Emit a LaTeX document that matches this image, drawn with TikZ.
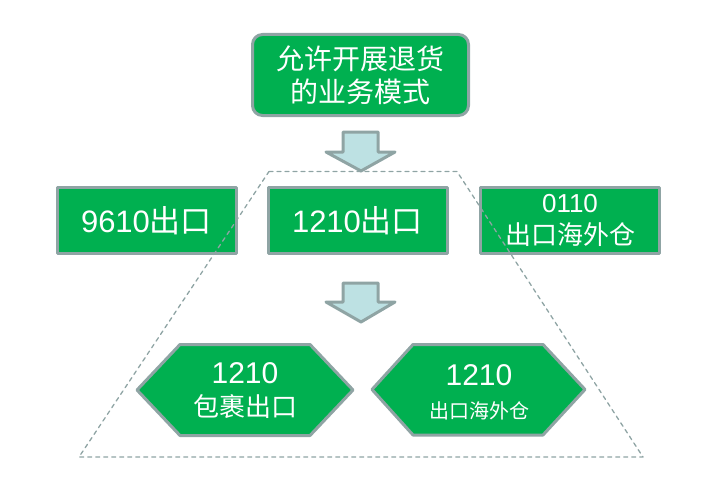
\documentclass[tikz,border=0pt]{standalone}
\usepackage{fontspec}
\setmainfont{Liberation Sans}
\newfontfamily\cjk{Noto Sans CJK SC}
\definecolor{boxgreen}{HTML}{00B050}
\definecolor{edgegray}{HTML}{8FA4A4}
\definecolor{arrowblue}{HTML}{BDE1E3}
\begin{document}
\begin{tikzpicture}[x=1pt, y=-1pt, line join=round, line cap=round,
		greenbox/.style={draw=edgegray, line width=3pt, fill=boxgreen, text=white, align=center, inner sep=0pt},
		midbox/.style={greenbox, minimum width=179pt, minimum height=66pt},
		hexbox/.style={draw=edgegray, line width=3pt, fill=boxgreen},
		hextext/.style={text=white, align=center, inner sep=0pt},
		bigarrow/.style={draw=edgegray, line width=3pt, fill=arrowblue}]
			\useasboundingbox (0,0) rectangle (704,487);
			% top box
			\node[greenbox, rounded corners=10pt, minimum width=216pt, minimum height=81pt, font=\fontsize{28}{33}\selectfont\cjk] (mode) at (360.5,75) {允许开展退货\\的业务模式};
			% three export modes
			\node[midbox, font=\fontsize{31}{36}\selectfont] (m9610) at (146.5,220.5) {9610{\cjk 出口}};
			\node[midbox, font=\fontsize{31}{36}\selectfont] (m1210) at (357.5,220.5) {1210{\cjk 出口}};
			\node[midbox, font=\fontsize{26}{32}\selectfont] (m0110) at (570,220.5) {0110\\{\cjk 出口海外仓}};
			% two 1210 variants
			\draw[hexbox] (137,390)--(180,344.5)--(310,344.5)--(353,390)--(310,435.5)--(180,435.5)--cycle;
			\draw[hexbox] (372,389.5)--(413,344.5)--(543,344.5)--(585,389.5)--(543,435)--(413,435)--cycle;
			\node[hextext, font=\fontsize{30}{33}\selectfont] (parcel) at (245,391) {1210\\{\fontsize{26}{33}\selectfont\cjk 包裹出口}};
			\node[hextext, font=\fontsize{30}{33}\selectfont] (oversea) at (479,392) {1210\\{\fontsize{20}{33}\selectfont\cjk 出口海外仓}};
			% dashed frame
			\draw[edgegray, line width=1.3pt, dash pattern=on 4pt off 4pt] (269,171.5)--(457,171.5)--(643,457)--(79,457)--cycle;
			% arrows
			\draw[bigarrow] (343,132)--(378,132)--(378,152)--(395,152)--(361,171)--(326,152)--(343,152)--cycle;
			\draw[bigarrow] (343,283)--(378,283)--(378,302)--(395,302)--(361,322)--(326,302)--(343,302)--cycle;
		\end{tikzpicture}
\end{document}
